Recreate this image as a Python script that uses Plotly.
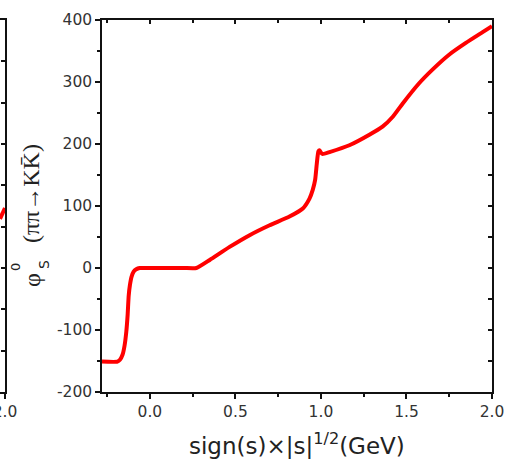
import plotly.graph_objects as go

# ---- data ----
x_vals = [-0.28, -0.19, -0.175, -0.16, -0.148, -0.138, -0.13, -0.124, -0.117, -0.107,
          -0.095, -0.08, -0.06, 0.0, 0.1, 0.2, 0.272, 0.35, 0.466, 0.583, 0.70, 0.816,
          0.894, 0.933, 0.952, 0.966, 0.976, 0.985, 0.992, 1.0, 1.01, 1.05, 1.166,
          1.283, 1.36, 1.42, 1.477, 1.574, 1.652, 1.749, 1.847, 1.943, 2.0]
phi_vals = [-151, -151, -148, -140, -125, -103, -75, -45, -28, -14,
            -6, -2, 0, 0, 0, 0, 0, 13, 34, 53, 69, 83,
            96, 112, 126, 142, 169, 188, 190, 186, 184, 187, 198,
            215, 228, 244, 265, 298, 320, 344, 363, 380, 390]

# fragment of the neighbouring panel visible at the left edge
left_x = [1.968, 2.0]
left_y = [4.19, 4.45]

x_major = [0.0, 0.5, 1.0, 1.5, 2.0]
x_major_text = ["0.0", "0.5", "1.0", "1.5", "2.0"]
x_minor = [-0.25, 0.25, 0.75, 1.25, 1.75]
y_major = [-200, -100, 0, 100, 200, 300, 400]
y_major_text = ["-200", "-100", "0", "100", "200", "300", "400"]
y_minor = [-150, -50, 50, 150, 250, 350]

W, H = 505, 467
ML, MR, MT, MB = 0, 13, 20, 75
PW, PH = W - ML - MR, H - MT - MB
AX_LEFT = 102          # pixel of main y axis
AX_BOTTOM = 392        # pixel of main x axis


def px(xp):
    return (xp - ML) / PW


def py(yp):
    return (AX_BOTTOM - yp) / PH


tickfont = dict(family="DejaVu Sans", size=15.5, color="#333333")
LC = "#111111"

fig = go.Figure()
fig.add_trace(go.Scatter(x=x_vals, y=phi_vals, mode="lines",
                         line=dict(color="#ff0000", width=4, shape="spline", smoothing=0.5),
                         xaxis="x", yaxis="y", showlegend=False, hoverinfo="skip"))
fig.add_trace(go.Scatter(x=left_x, y=left_y, mode="lines",
                         line=dict(color="#ff0000", width=4),
                         xaxis="x2", yaxis="y2", showlegend=False, hoverinfo="skip"))
# empty trace so the mirror (top / right) axes are drawn
fig.add_trace(go.Scatter(x=[None], y=[None], mode="lines",
                         xaxis="x3", yaxis="y3", showlegend=False, hoverinfo="skip"))

xr = [-0.28, 2.0]
yr = [-200, 400]

common = dict(showgrid=False, zeroline=False, automargin=False)

fig.update_layout(
    width=W, height=H,
    margin=dict(l=ML, r=MR, t=MT, b=MB, pad=0),
    paper_bgcolor="white", plot_bgcolor="white",
    xaxis=dict(domain=[px(AX_LEFT), 1], range=xr, anchor="y",
               showline=True, linecolor=LC, linewidth=1.5,
               tickmode="array", tickvals=x_major, ticktext=x_major_text,
               ticks="outside", ticklen=5, tickwidth=1.5, tickcolor=LC,
               ticklabeloverflow="allow",
               minor=dict(tickmode="array", tickvals=x_minor, ticks="outside",
                          ticklen=3, tickwidth=1.5, tickcolor=LC),
               tickfont=tickfont, **common),
    xaxis3=dict(overlaying="x", side="top", anchor="y3", range=xr,
                showline=True, linecolor=LC, linewidth=1.5,
                tickmode="array", tickvals=x_major, showticklabels=False,
                ticks="inside", ticklen=4, tickwidth=1.5, tickcolor=LC,
                minor=dict(tickmode="array", tickvals=x_minor, ticks="inside",
                           ticklen=3, tickwidth=1.5, tickcolor=LC),
                **common),
    yaxis=dict(domain=[0, 1], range=yr, anchor="x",
               showline=True, linecolor=LC, linewidth=1.5,
               tickmode="array", tickvals=y_major, ticktext=y_major_text,
               ticks="outside", ticklen=5, tickwidth=1.5, tickcolor=LC,
               minor=dict(tickmode="array", tickvals=y_minor, ticks="outside",
                          ticklen=3, tickwidth=1.5, tickcolor=LC),
               tickfont=tickfont, **common),
    yaxis3=dict(overlaying="y", side="right", anchor="x3", range=yr,
                showline=True, linecolor=LC, linewidth=1.5,
                tickmode="array", tickvals=y_major, showticklabels=False,
                ticks="inside", ticklen=4, tickwidth=1.5, tickcolor=LC,
                minor=dict(tickmode="array", tickvals=y_minor, ticks="inside",
                           ticklen=4, tickwidth=1.5, tickcolor=LC),
                **common),
    xaxis2=dict(domain=[0, px(5)], range=[1.968, 2.0], anchor="y2",
                showline=True, linecolor=LC, linewidth=1.5, mirror=True,
                tickmode="array", tickvals=[2.0], ticktext=["2.0"],
                ticks="outside", ticklen=5, tickwidth=1.5, tickcolor=LC,
                ticklabeloverflow="allow",
                tickfont=tickfont, **common),
    yaxis2=dict(domain=[0, 1], range=[0, 9], anchor="x2", side="right",
                showline=True, linecolor=LC, linewidth=1.5,
                tickmode="linear", tick0=0, dtick=1, showticklabels=False,
                ticks="inside", ticklen=4, tickwidth=1.5, tickcolor=LC,
                **common),
)

ann = []
ann.append(dict(text="sign(s)×|s|<sup>1/2</sup>(GeV)", x=px(297), y=py(444),
                xref="paper", yref="paper", xanchor="center", yanchor="middle",
                showarrow=False, font=dict(family="DejaVu Sans", size=23, color="#222222")))
ann.append(dict(text="(ππ→KK\u0304)", x=px(31), y=py(193), textangle=-90,
                xref="paper", yref="paper", xanchor="center", yanchor="middle",
                showarrow=False, font=dict(family="Liberation Serif", size=24, color="#222222")))
ann.append(dict(text="φ", x=px(32), y=py(280), textangle=-90,
                xref="paper", yref="paper", xanchor="center", yanchor="middle",
                showarrow=False, font=dict(family="Liberation Serif", size=24, color="#222222")))
ann.append(dict(text="S", x=px(44), y=py(265), textangle=-90,
                xref="paper", yref="paper", xanchor="center", yanchor="middle",
                showarrow=False, font=dict(family="DejaVu Sans", size=14, color="#222222")))
ann.append(dict(text="0", x=px(15), y=py(267), textangle=-90,
                xref="paper", yref="paper", xanchor="center", yanchor="middle",
                showarrow=False, font=dict(family="DejaVu Sans", size=13, color="#222222")))
fig.update_layout(annotations=ann)

fig.write_html("out.html", config={"displayModeBar": False},
               post_script="document.body.style.margin='0';")
